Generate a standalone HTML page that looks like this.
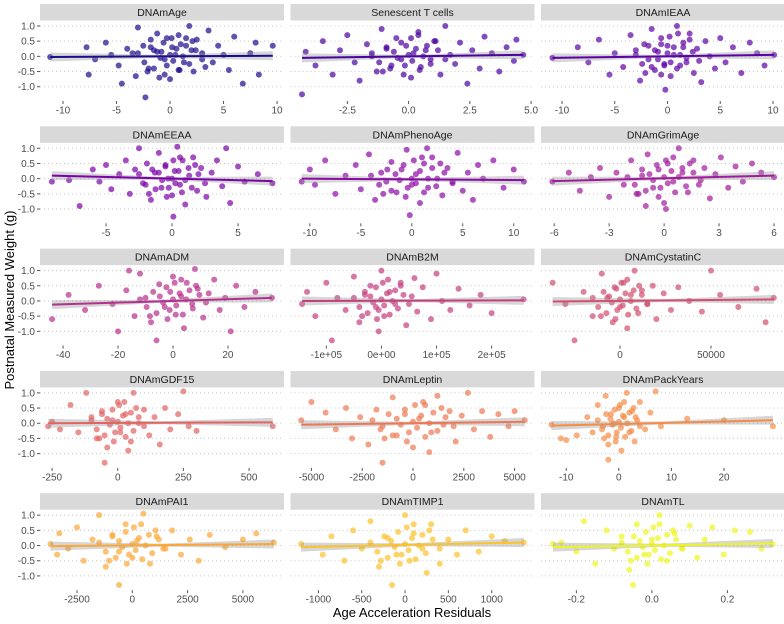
<!DOCTYPE html>
<html><head><meta charset="utf-8">
<style>
html,body{margin:0;padding:0;background:#fff;}
svg{display:block;font-family:"Liberation Sans",Arial,sans-serif;}
</style></head>
<body>
<svg id="chart" width="784" height="624" viewBox="0 0 784 624" xmlns="http://www.w3.org/2000/svg">
<text x="0" y="0" transform="translate(14,300) rotate(-90)" text-anchor="middle" font-size="13" fill="#000">Postnatal Measured Weight (g)</text>
<text x="412" y="617" text-anchor="middle" font-size="13" fill="#000">Age Acceleration Residuals</text>
</svg>
<script>
const panelNames=["DNAmAge","Senescent T cells","DNAmIEAA","DNAmEEAA","DNAmPhenoAge","DNAmGrimAge","DNAmADM","DNAmB2M","DNAmCystatinC","DNAmGDF15","DNAmLeptin","DNAmPackYears","DNAmPAI1","DNAmTIMP1","DNAmTL"];
const panelColors=["#1b0c8a","#4a03a0","#5c01a6","#7a02a8","#8b0aa5","#a01a9c","#b52f8c","#c43e7f","#d24f71","#e16462","#ec7853","#f58c46","#fca636","#fcc22a","#eef521"];
const xDomains=[[-12.15,10.65],[-4.82,5.14],[-11.99,11.14],[-10,8.48],[-11.9,12.04],[-6.72,6.6],[-48.4,40.4],[-165000,277800],[-43400,90650],[-296,633],[-6030,5980],[-14.8,31.6],[-4172,6857],[-1322,1494],[-0.2937,0.3525]];
const yDomain=[-1.47,1.18];
const xTickVals=[[-10,-5,0,5,10],[-2.5,0,2.5,5],[-10,-5,0,5,10],[-5,0,5],[-10,-5,0,5,10],[-6,-3,0,3,6],[-40,-20,0,20],[-100000,0,100000,200000],[0,50000],[-250,0,250,500],[-5000,-2500,0,2500,5000],[-10,0,10,20],[-2500,0,2500,5000],[-1000,-500,0,500,1000],[-0.2,0,0.2]];
const xTickLabels=[["-10","-5","0","5","10"],["-2.5","0.0","2.5","5.0"],["-10","-5","0","5","10"],["-5","0","5"],["-10","-5","0","5","10"],["-6","-3","0","3","6"],["-40","-20","0","20"],["-1e+05","0e+00","1e+05","2e+05"],["0","50000"],["-250","0","250","500"],["-5000","-2500","0","2500","5000"],["-10","0","10","20"],["-2500","0","2500","5000"],["-1000","-500","0","500","1000"],["-0.2","0.0","0.2"]];
const yTickVals=[-1,-0.5,0,0.5,1];
const yTickLabels=["-1.0","-0.5","0.0","0.5","1.0"];
// regression fit: [xStart, xEnd, yStart, yEnd]
const fitLines=[[-11.2,9.6,-0.02,0.02],[-4.35,4.68,-0.05,0.05],[-10.9,10.1,-0.05,0.05],[-9.1,7.6,0.1,-0.08],[-10.8,11,0.0,-0.05],[-6.1,6.0,-0.08,0.1],[-44,36,-0.12,0.1],[-144000,258000,0,0.02],[-37000,84500,-0.02,0.05],[-265,590,0,0.03],[-5500,5500,-0.05,0.05],[-12.8,29.3,-0.08,0.1],[-3700,6400,-0.02,0.05],[-1200,1370,-0.05,0.1],[-0.262,0.32,-0.05,0.07]];
const ptsAge=[[-11.2,-0.02],[-7.8,0.3],[-7.6,-0.6],[-7,-0.1],[-6,0.45],[-5.5,0.05],[-4.8,-0.3],[-4.5,-0.9],[-4,0.25],[-3.5,0.1],[-3.2,-0.65],[-3,0.95],[-2.5,0.35],[-2.3,-1.35],[-2,-0.4],[-1.8,0.55],[-1.5,0.2],[-1.2,0.75],[-1,-0.7],[-0.8,0.15],[-0.5,-0.1],[-0.3,0.6],[0,-0.75],[0.2,0.3],[0.5,0.05],[0.8,-0.45],[1,0.4],[1.3,-0.2],[1.5,0.6],[1.8,1.0],[2,0.2],[2.2,-0.5],[2.5,0.55],[3,0.1],[3.3,-0.35],[3.6,0.85],[4,-0.2],[4.5,0.35],[5,0.05],[5.5,-0.45],[6,0.65],[6.8,-0.9],[7.5,0.1],[8,0.45],[8.3,-0.6],[9.6,0.35]];
const ptsSen=[[-4.35,-1.25],[-4.2,0.15],[-3.8,-0.3],[-3.5,0.5],[-3.1,-0.6],[-2.8,0.2],[-2.5,0.7],[-2.2,-0.2],[-2,-0.8],[-1.7,0.4],[-1.5,0.0],[-1.3,-0.5],[-1.1,0.9],[-0.9,0.25],[-0.7,-0.3],[-0.5,0.6],[-0.3,-0.1],[-0.1,0.35],[0.1,-0.7],[0.2,0.1],[0.4,0.8],[0.5,-0.35],[0.7,0.2],[0.9,-0.1],[1.1,0.5],[1.3,-0.6],[1.5,1.0],[1.7,0.05],[1.9,-0.25],[2.1,0.45],[2.4,-0.9],[2.6,0.2],[2.9,-0.4],[3.1,0.65],[3.4,0.1],[3.7,-0.5],[4.0,0.3],[4.3,-0.15],[4.4,0.55],[4.68,0.05]];
const ptsIEAA=[[-10.9,-0.05],[-8.5,0.3],[-7.5,-0.2],[-6.5,0.55],[-5.5,-0.6],[-5,0.1],[-4.2,-0.35],[-3.5,0.7],[-3,0.2],[-2.6,-0.8],[-2.2,0.4],[-1.8,-0.1],[-1.5,0.9],[-1.2,-0.45],[-0.9,0.15],[-0.6,0.6],[-0.3,-0.25],[0,0.35],[0.3,-0.65],[0.6,0.05],[0.9,1.0],[1.2,-0.3],[1.5,0.45],[1.8,-0.05],[2.1,0.75],[2.5,-0.55],[2.8,0.25],[3.2,-0.85],[3.6,0.5],[4,0.0],[4.5,-0.4],[5,0.6],[5.5,-0.2],[6.2,0.3],[7,-0.55],[7.8,0.45],[8.5,0.1],[9.2,-0.3],[10.1,0.05],[-0.2,-1.1]];
const ptsEEAA=[[-9.1,-0.1],[-7.8,-0.05],[-7,-0.9],[-6,0.3],[-5.5,-0.1],[-5,0.45],[-4.6,-0.35],[-4,0.15],[-3.5,0.6],[-3.2,-0.5],[-2.8,0.3],[-2.5,1.0],[-2.2,-0.15],[-1.9,0.5],[-1.6,-0.7],[-1.3,0.2],[-1,0.85],[-0.8,-0.3],[-0.5,0.4],[-0.3,0.0],[0,-0.55],[0.2,0.25],[0.4,1.05],[0.6,-0.2],[0.8,0.6],[1,-0.85],[1.3,0.1],[1.6,0.7],[1.9,-0.4],[2.2,0.35],[2.6,-0.6],[3,0.2],[3.4,0.6],[3.8,-0.25],[4.1,1.0],[4.4,-0.8],[5,0.4],[5.5,-0.1],[6.5,0.15],[7.6,-0.15],[0.1,-1.25]];
const ptsPheno=[[-10.8,-0.1],[-10,0.3],[-9.5,-0.2],[-8.5,0.6],[-7.5,-0.5],[-6.5,0.1],[-5.5,0.45],[-5,-0.35],[-4.2,0.8],[-3.6,-0.7],[-3,0.2],[-2.5,-0.1],[-2,0.55],[-1.5,-0.45],[-1,0.3],[-0.5,0.95],[0,-0.2],[0.4,0.15],[0.8,-0.8],[1.2,0.5],[1.6,-0.3],[2,0.7],[2.5,0.0],[3,-0.55],[3.5,0.35],[4,-0.15],[4.5,0.85],[5,-0.4],[5.5,0.2],[6,-0.7],[6.5,0.45],[7,0.0],[8,0.6],[9,-0.3],[10,0.3],[11,-0.1],[-0.2,-1.2],[1.5,1.0]];
const ptsGrim=[[-6.1,-0.1],[-5.2,0.2],[-4.6,-0.4],[-4,0.05],[-3.5,0.35],[-3,-0.6],[-2.6,0.2],[-2.2,-0.2],[-1.8,0.6],[-1.5,-0.5],[-1.2,0.1],[-0.9,0.8],[-0.6,-0.3],[-0.3,0.3],[0,-0.8],[0.2,0.5],[0.5,-0.1],[0.8,1.0],[1,0.2],[1.3,-0.45],[1.6,0.6],[1.9,-0.2],[2.2,0.35],[2.5,-0.65],[2.8,0.15],[3.1,0.7],[3.5,-0.3],[3.9,0.4],[4.3,-0.1],[4.8,0.5],[5.3,0.2],[6.0,0.05],[0.1,-1.0],[-1,-0.9]];
const ptsADM=[[-44,-0.6],[-38,0.2],[-32,-0.3],[-27,0.5],[-22,-0.1],[-20,-1.0],[-17,0.35],[-14,-0.5],[-12,0.9],[-10,0.1],[-8,-0.7],[-6,-1.3],[-5,0.55],[-3,-0.2],[-1,0.3],[0,0.8],[1,-0.45],[3,0.15],[4,-0.9],[5,0.6],[7,-0.1],[9,0.4],[11,-0.55],[13,0.25],[15,0.7],[17,-0.3],[19,0.1],[21,-1.0],[23,0.5],[26,-0.2],[30,0.3],[36,0.1],[-16,1.0],[8,1.05]];
const ptsB2M=[[-144000,-0.1],[-135000,0.3],[-120000,-0.5],[-100000,0.6],[-90000,-1.3],[-80000,0.1],[-65000,-0.3],[-50000,0.8],[-40000,-0.7],[-30000,0.2],[-20000,0.5],[-10000,-0.2],[0,1.0],[5000,-0.5],[15000,0.3],[25000,-0.1],[35000,0.6],[45000,-0.8],[55000,0.15],[65000,-0.35],[75000,0.45],[90000,-0.6],[100000,0.9],[110000,0.0],[125000,-0.3],[140000,0.4],[160000,-0.15],[180000,0.2],[200000,-0.4],[258000,0.05],[-5000,-1.0],[60000,0.75]];
const ptsCys=[[-37000,0.6],[-30000,-0.1],[-25000,-1.3],[-20000,0.3],[-15000,-0.5],[-10000,0.9],[-7000,0.1],[-4000,-0.7],[-2000,0.4],[0,-0.2],[2000,0.6],[4000,-0.9],[6000,0.2],[8000,1.0],[10000,-0.4],[12000,0.35],[15000,-0.1],[18000,0.5],[20000,-0.6],[24000,0.25],[28000,-0.3],[32000,0.45],[38000,0.0],[45000,-0.35],[50000,1.0],[55000,0.2],[65000,-0.2],[75000,0.4],[80000,-0.7],[84500,0.1]];
const ptsGDF=[[-265,-0.1],[-250,0.05],[-220,-0.2],[-180,0.6],[-150,-0.3],[-120,1.0],[-100,0.2],[-80,-0.5],[-60,0.4],[-40,-0.8],[-20,0.1],[0,0.7],[10,-0.3],[30,0.3],[50,-0.6],[60,1.0],[80,0.0],[100,0.45],[120,-0.4],[140,0.2],[160,-0.7],[180,0.5],[200,-0.2],[230,0.3],[250,1.05],[270,-0.1],[300,-0.25],[-50,-1.3],[590,-0.1],[40,-0.9]];
const ptsLep=[[-5500,0.1],[-5000,0.7],[-4300,0.35],[-3800,-0.2],[-3300,0.5],[-3000,-0.5],[-2600,0.2],[-2200,-0.7],[-1800,0.45],[-1500,-0.1],[-1000,0.85],[-800,-0.4],[-400,0.3],[0,-0.8],[300,0.15],[600,0.6],[900,-0.3],[1200,0.9],[1500,-0.05],[1800,0.4],[2100,-0.6],[2400,0.25],[2700,1.0],[3000,-0.2],[3400,0.4],[3800,-0.45],[4200,0.3],[4700,-0.1],[5000,0.4],[5500,0.1],[-1500,-1.3],[800,-0.95]];
const ptsPack=[[-12.8,-0.05],[-11,-0.5],[-10,-0.55],[-8,-0.4],[-6,0.2],[-5,-0.3],[-4,0.6],[-3,-0.1],[-2.5,0.9],[-2,-0.7],[-1.5,0.3],[-1,0.0],[-0.5,-0.45],[0,0.5],[0.5,-0.9],[1,0.2],[1.5,1.0],[2,-0.3],[2.5,0.4],[3,-0.6],[3.5,0.1],[4,0.7],[5,-0.2],[6,0.35],[7,1.05],[8,-0.1],[13,0.15],[20,0.1],[29.3,-0.1],[-2,-1.2]];
const ptsPAI=[[-3700,0.05],[-3400,-0.3],[-3300,0.4],[-2900,-0.1],[-2500,0.6],[-2200,-0.5],[-1800,0.2],[-1500,1.0],[-1200,-0.7],[-900,0.35],[-600,-0.2],[-300,0.7],[0,-0.4],[200,0.15],[500,1.05],[800,-0.6],[1100,0.3],[1400,-0.1],[1800,0.5],[2200,-0.3],[2600,0.2],[3000,-0.5],[3500,0.35],[4200,-0.05],[5000,0.2],[5600,0.4],[6400,0.1],[-600,-1.3]];
const ptsTIMP=[[-1200,0.05],[-950,-0.3],[-850,0.3],[-700,-0.5],[-600,0.5],[-500,-0.1],[-400,0.8],[-300,-0.7],[-200,0.25],[-100,-0.3],[0,1.0],[50,-0.5],[100,0.4],[200,-0.1],[300,0.7],[400,-0.6],[500,0.2],[600,-0.3],[700,0.5],[850,-0.2],[1000,0.3],[1150,0.15],[1370,0.1],[-150,-1.3],[250,-0.9]];
const ptsTL=[[-0.262,0.05],[-0.24,0.1],[-0.2,-0.2],[-0.18,0.8],[-0.15,-0.6],[-0.12,0.5],[-0.1,-0.1],[-0.08,0.3],[-0.06,-0.8],[-0.04,0.7],[-0.02,-0.3],[0,0.2],[0.02,1.0],[0.04,-0.5],[0.06,0.4],[0.08,-0.1],[0.1,0.65],[0.12,-0.4],[0.14,0.2],[0.16,0.6],[0.19,-0.3],[0.22,0.5],[0.26,0.45],[0.29,-0.1],[0.32,0.05],[-0.05,-1.3]];
// dense central cloud points (estimated)
const coreAge=[[-3,0.1],[-2.4,-0.2],[-1.8,0.3],[-1.5,-0.4],[-1.2,0.15],[-0.9,-0.05],[-0.6,0.45],[-0.3,-0.3],[0,0.05],[0.3,-0.15],[0.6,0.25],[0.9,-0.45],[1.2,0.0],[1.5,0.35],[1.8,-0.25],[2.4,0.2],[3,-0.1],[-2.1,-0.5],[2.1,0.5],[0.15,0.6],[-0.5,-0.6],[0.8,0.7]];
const coreSen=[[-1.5,0.1],[-1.2,-0.2],[-0.9,0.3],[-0.75,-0.4],[-0.6,0.15],[-0.45,-0.05],[-0.3,0.45],[-0.15,-0.3],[0,0.05],[0.15,-0.15],[0.3,0.25],[0.45,-0.45],[0.6,0.0],[0.75,0.35],[0.9,-0.25],[1.2,0.2],[1.5,-0.1],[-1.05,-0.5],[1.05,0.5],[0.1,0.6],[-0.2,-0.6],[0.4,0.7]];
const coreIEAA=[[-3,0.05],[-2.4,-0.25],[-1.8,0.35],[-1.5,-0.35],[-1.2,0.2],[-0.9,-0.1],[-0.6,0.4],[-0.3,-0.3],[0,0.1],[0.3,-0.2],[0.6,0.3],[0.9,-0.4],[1.2,0.05],[1.5,0.3],[1.8,-0.2],[2.4,0.15],[3,-0.15],[-2.1,-0.55],[2.1,0.55],[0.2,0.65],[-0.6,-0.6],[1,0.75]];
const coreEEAA=[[-2.5,0.15],[-2,-0.2],[-1.5,0.3],[-1.25,-0.35],[-1,0.2],[-0.75,-0.05],[-0.5,0.45],[-0.25,-0.3],[0,0.0],[0.25,-0.15],[0.5,0.25],[0.75,-0.45],[1,-0.05],[1.25,0.35],[1.5,-0.3],[2,0.15],[2.5,-0.15],[-1.75,-0.5],[1.75,0.45],[0.1,0.6],[-0.4,-0.6],[0.6,0.7]];
const coreGrimP=[[-4,0.1],[-3.2,-0.2],[-2.4,0.3],[-2,-0.4],[-1.6,0.15],[-1.2,-0.05],[-0.8,0.45],[-0.4,-0.3],[0,0.0],[0.4,-0.15],[0.8,0.25],[1.2,-0.45],[1.6,0.0],[2,0.35],[2.4,-0.25],[3.2,0.2],[4,-0.1],[-2.8,-0.5],[2.8,0.5],[0.2,0.6],[-0.6,-0.6],[1,0.7]];
const coreGrim=[[-2,0.05],[-1.6,-0.2],[-1.2,0.3],[-1,-0.4],[-0.8,0.15],[-0.6,-0.05],[-0.4,0.45],[-0.2,-0.3],[0,0.05],[0.2,-0.15],[0.4,0.25],[0.6,-0.45],[0.8,0.05],[1,0.35],[1.2,-0.25],[1.6,0.2],[2,-0.05],[-1.4,-0.5],[1.4,0.5],[0.1,0.6],[-0.3,-0.6],[0.5,0.7]];
const coreADM=[[-12,0.05],[-9.6,-0.2],[-7.2,0.3],[-6,-0.4],[-4.8,0.15],[-3.6,-0.05],[-2.4,0.45],[-1.2,-0.3],[0,0.05],[1.2,-0.15],[2.4,0.25],[3.6,-0.45],[4.8,0.05],[6,0.35],[7.2,-0.25],[9.6,0.2],[12,-0.05],[-8.4,-0.5],[8.4,0.5],[0.6,0.6],[-2,-0.6],[3,0.7]];
const coreB2M=[[-50000,0.1],[-40000,-0.2],[-30000,0.3],[-25000,-0.4],[-20000,0.15],[-15000,-0.05],[-10000,0.45],[-5000,-0.3],[0,0.05],[5000,-0.15],[10000,0.25],[15000,-0.45],[20000,0.0],[25000,0.35],[30000,-0.25],[40000,0.2],[50000,-0.1],[-35000,-0.5],[35000,0.5],[2500,0.6],[-8000,-0.6],[12000,0.7]];
const coreCys=[[-15000,0.1],[-12000,-0.2],[-9000,0.3],[-7500,-0.4],[-6000,0.15],[-4500,-0.05],[-3000,0.45],[-1500,-0.3],[0,0.05],[1500,-0.15],[3000,0.25],[4500,-0.45],[6000,0.0],[7500,0.35],[9000,-0.25],[12000,0.2],[15000,-0.1],[-10500,-0.5],[10500,0.5],[750,0.6],[-2500,-0.6],[4000,0.7]];
const coreGDF=[[-100,0.1],[-80,-0.2],[-60,0.3],[-50,-0.4],[-40,0.15],[-30,-0.05],[-20,0.45],[-10,-0.3],[0,0.05],[10,-0.15],[20,0.25],[30,-0.45],[40,0.0],[50,0.35],[60,-0.25],[80,0.2],[100,-0.1],[-70,-0.5],[70,0.5],[5,0.6],[-15,-0.6],[25,0.7]];
const coreLep=[[-2000,0.1],[-1600,-0.2],[-1200,0.3],[-1000,-0.4],[-800,0.15],[-600,-0.05],[-400,0.45],[-200,-0.3],[0,0.05],[200,-0.15],[400,0.25],[600,-0.45],[800,0.0],[1000,0.35],[1200,-0.25],[1600,0.2],[2000,-0.1],[-1400,-0.5],[1400,0.5],[100,0.6],[-300,-0.6],[500,0.7]];
const corePack=[[-4,0.1],[-3.2,-0.2],[-2.4,0.3],[-2,-0.4],[-1.6,0.15],[-1.2,-0.05],[-0.8,0.45],[-0.4,-0.3],[0,0.05],[0.4,-0.15],[0.8,0.25],[1.2,-0.45],[1.6,0.0],[2,0.35],[2.4,-0.25],[3.2,0.2],[4,-0.1],[-2.8,-0.5],[2.8,0.5],[0.2,0.6],[-0.6,-0.6],[1,0.7]];
const corePAI=[[-1500,0.1],[-1200,-0.2],[-900,0.3],[-750,-0.4],[-600,0.15],[-450,-0.05],[-300,0.45],[-150,-0.3],[0,0.05],[150,-0.15],[300,0.25],[450,-0.45],[600,0.0],[750,0.35],[900,-0.25],[1200,0.2],[1500,-0.1],[-1050,-0.5],[1050,0.5],[75,0.6],[-250,-0.6],[400,0.7]];
const coreTIMP=[[-400,0.1],[-320,-0.2],[-240,0.3],[-200,-0.4],[-160,0.15],[-120,-0.05],[-80,0.45],[-40,-0.3],[0,0.05],[40,-0.15],[80,0.25],[120,-0.45],[160,0.0],[200,0.35],[240,-0.25],[320,0.2],[400,-0.1],[-280,-0.5],[280,0.5],[20,0.6],[-60,-0.6],[100,0.7]];
const coreTL=[[-0.08,0.1],[-0.064,-0.2],[-0.048,0.3],[-0.04,-0.4],[-0.032,0.15],[-0.024,-0.05],[-0.016,0.45],[-0.008,-0.3],[0,0.05],[0.008,-0.15],[0.016,0.25],[0.024,-0.45],[0.032,0.0],[0.04,0.35],[0.048,-0.25],[0.064,0.2],[0.08,-0.1],[-0.056,-0.5],[0.056,0.5],[0.004,0.6],[-0.012,-0.6],[0.02,0.7]];
const panelPoints=[ptsAge,ptsSen,ptsIEAA,ptsEEAA,ptsPheno,ptsGrim,ptsADM,ptsB2M,ptsCys,ptsGDF,ptsLep,ptsPack,ptsPAI,ptsTIMP,ptsTL];
const panelCore=[coreAge,coreSen,coreIEAA,coreEEAA,coreGrimP,coreGrim,coreADM,coreB2M,coreCys,coreGDF,coreLep,corePack,corePAI,coreTIMP,coreTL];

const svg=document.getElementById('chart');
const NS='http://www.w3.org/2000/svg';
function mk(tag,attrs,parent){const e=document.createElementNS(NS,tag);for(const k in attrs)e.setAttribute(k,attrs[k]);(parent||svg).appendChild(e);return e;}
const colLeft=[40,290.5,541], colW=244, rowPitch=122.3, stripH=16.5, plotTop0=20.5, plotH=80.5;
panelNames.forEach((name,i)=>{
  const c=i%3, r=Math.floor(i/3);
  const L=colLeft[c], T=4+r*rowPitch, PT=plotTop0+r*rowPitch, PB=PT+plotH;
  const xd=xDomains[i];
  const sx=v=>L+(v-xd[0])/(xd[1]-xd[0])*colW;
  const sy=v=>PB-(v-yDomain[0])/(yDomain[1]-yDomain[0])*plotH;
  const g=mk('g',{});
  
  
  const strip=mk('rect',{x:L,y:T,width:colW,height:stripH,fill:'#d9d9d9'},g);
  
  
  const st=mk('text',{x:L+colW/2,y:T+12,'text-anchor':'middle','font-size':'10.5',fill:'#1a1a1a'},g);
  st.textContent=name;
  
  
  yTickVals.forEach((v,k)=>{
    const gl=mk('line',{x1:L,x2:L+colW,y1:sy(v),y2:sy(v),stroke:'#c8c8c8','stroke-width':1,'stroke-dasharray':'1 3'},g);
    
    
    if(c===0){
      mk('line',{x1:L-3,x2:L,y1:sy(v),y2:sy(v),stroke:'#555','stroke-width':1},g);
      const yl=mk('text',{x:L-5,y:sy(v)+3.5,'text-anchor':'end','font-size':'10',fill:'#4d4d4d'},g);
      yl.textContent=yTickLabels[k];
      
      
    }
  });
  xTickVals[i].forEach((v,k)=>{
    mk('line',{x1:sx(v),x2:sx(v),y1:PB,y2:PB+3,stroke:'#555','stroke-width':1},g);
    const xl=mk('text',{x:sx(v),y:PB+12.5,'text-anchor':'middle','font-size':'10',fill:'#4d4d4d'},g);
    xl.textContent=xTickLabels[i][k];
    
    
  });
  const col=panelColors[i];
  panelPoints[i].concat(panelCore[i]).forEach(p=>{
    const d=mk('circle',{cx:sx(p[0]),cy:sy(p[1]),r:3,fill:col,'fill-opacity':0.7},g);
    
    
  });
  const f=fitLines[i];
  const x0=sx(f[0]),x1=sx(f[1]),y0=sy(f[2]),y1=sy(f[3]),xm=(x0+x1)/2,ym=(y0+y1)/2;
  const w0=4.5,wm=1.5,w1=4.5;
  const rib=mk('polygon',{points:`${x0},${y0-w0} ${xm},${ym-wm} ${x1},${y1-w1} ${x1},${y1+w1} ${xm},${ym+wm} ${x0},${y0+w0}`,fill:'#999','fill-opacity':0.4},g);
  
  
  const ln=mk('line',{x1:x0,y1:y0,x2:x1,y2:y1,stroke:col,'stroke-width':2},g);
  
  
});
</script>
</body></html>
